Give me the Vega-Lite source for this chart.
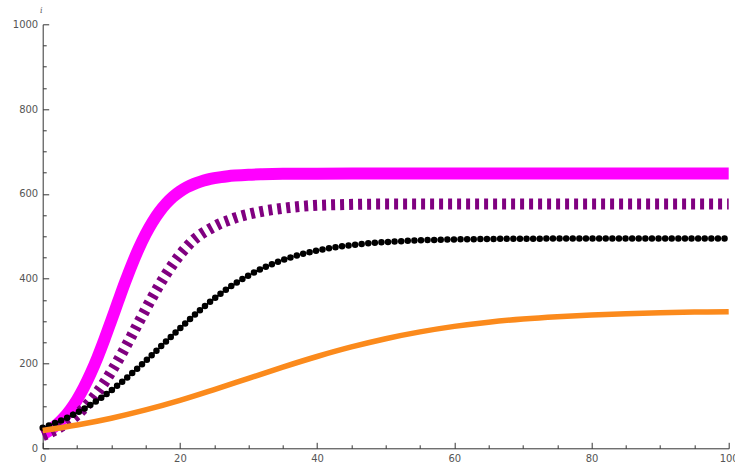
{
  "$schema": "https://vega.github.io/schema/vega-lite/v6.json",
  "width": 686,
  "height": 424,
  "autosize": "none",
  "padding": {"left": 42.7, "top": 24.3, "right": 6.3, "bottom": 19.5},
  "background": "white",
  "config": {
    "view": {"stroke": null},
    "axis": {"grid": false, "labelFont": "DejaVu Sans", "labelFontSize": 10, "labelColor": "#555555", "domainColor": "#333333", "tickColor": "#333333", "domainWidth": 1, "tickWidth": 1}
  },
  "data": {"values": [
    {"s":"m","t":0,"v":32.5},{"s":"m","t":1,"v":42.4},{"s":"m","t":2,"v":54.9},{"s":"m","t":3,"v":70.7},{"s":"m","t":4,"v":90.4},{"s":"m","t":5,"v":114.4},{"s":"m","t":6,"v":143.2},{"s":"m","t":7,"v":176.9},{"s":"m","t":8,"v":215.0},{"s":"m","t":9,"v":256.9},{"s":"m","t":10,"v":301.4},{"s":"m","t":11,"v":346.6},{"s":"m","t":12,"v":391.1},{"s":"m","t":13,"v":433.0},{"s":"m","t":14,"v":471.2},{"s":"m","t":15,"v":504.8},{"s":"m","t":16,"v":533.6},{"s":"m","t":17,"v":557.7},{"s":"m","t":18,"v":577.3},{"s":"m","t":19,"v":593.1},{"s":"m","t":20,"v":605.7},{"s":"m","t":21,"v":615.5},{"s":"m","t":22,"v":623.1},{"s":"m","t":23,"v":629.0},{"s":"m","t":24,"v":633.6},{"s":"m","t":25,"v":637.0},{"s":"m","t":26,"v":639.7},{"s":"m","t":27,"v":641.7},{"s":"m","t":28,"v":643.2},{"s":"m","t":30,"v":645.3},{"s":"m","t":32,"v":646.4},{"s":"m","t":35,"v":647.3},{"s":"m","t":40,"v":647.8},{"s":"m","t":50,"v":648},{"s":"m","t":60,"v":648},{"s":"m","t":70,"v":648},{"s":"m","t":80,"v":648},{"s":"m","t":90,"v":648},{"s":"m","t":100,"v":648},
    {"s":"p","t":0,"v":29.9},{"s":"p","t":1,"v":36.5},{"s":"p","t":2,"v":44.5},{"s":"p","t":3,"v":54.0},{"s":"p","t":4,"v":65.3},{"s":"p","t":5,"v":78.7},{"s":"p","t":6,"v":94.2},{"s":"p","t":7,"v":112.1},{"s":"p","t":8,"v":132.5},{"s":"p","t":9,"v":155.4},{"s":"p","t":10,"v":180.6},{"s":"p","t":11,"v":207.8},{"s":"p","t":12,"v":236.7},{"s":"p","t":13,"v":266.7},{"s":"p","t":14,"v":297.2},{"s":"p","t":15,"v":327.5},{"s":"p","t":16,"v":356.9},{"s":"p","t":17,"v":384.9},{"s":"p","t":18,"v":410.9},{"s":"p","t":19,"v":434.7},{"s":"p","t":20,"v":456.1},{"s":"p","t":21,"v":475.0},{"s":"p","t":22,"v":491.5},{"s":"p","t":23,"v":504},{"s":"p","t":24,"v":514},{"s":"p","t":25,"v":523},{"s":"p","t":26,"v":531},{"s":"p","t":27,"v":537},{"s":"p","t":28,"v":543},{"s":"p","t":29,"v":548},{"s":"p","t":30,"v":552},{"s":"p","t":32,"v":559},{"s":"p","t":34,"v":564},{"s":"p","t":36,"v":568},{"s":"p","t":38,"v":571},{"s":"p","t":40,"v":573},{"s":"p","t":43,"v":574.5},{"s":"p","t":46,"v":575.5},{"s":"p","t":50,"v":576},{"s":"p","t":60,"v":576},{"s":"p","t":70,"v":576},{"s":"p","t":80,"v":576},{"s":"p","t":90,"v":576},{"s":"p","t":100,"v":576},
    {"s":"k","t":0,"v":48.6},{"s":"k","t":1,"v":54.4},{"s":"k","t":2,"v":60.7},{"s":"k","t":3,"v":67.7},{"s":"k","t":4,"v":75.4},{"s":"k","t":5,"v":83.8},{"s":"k","t":6,"v":92.8},{"s":"k","t":7,"v":102.6},{"s":"k","t":8,"v":113.2},{"s":"k","t":9,"v":124.6},{"s":"k","t":10,"v":136.6},{"s":"k","t":11,"v":149.3},{"s":"k","t":12,"v":162.7},{"s":"k","t":13,"v":176.7},{"s":"k","t":14,"v":191.1},{"s":"k","t":15,"v":206.0},{"s":"k","t":16,"v":221.2},{"s":"k","t":17,"v":236.7},{"s":"k","t":18,"v":252.2},{"s":"k","t":19,"v":267.6},{"s":"k","t":20,"v":282.9},{"s":"k","t":21,"v":298.0},{"s":"k","t":22,"v":312.6},{"s":"k","t":23,"v":326.8},{"s":"k","t":24,"v":340.4},{"s":"k","t":25,"v":353.4},{"s":"k","t":26,"v":365.7},{"s":"k","t":27,"v":377.3},{"s":"k","t":28,"v":388.2},{"s":"k","t":29,"v":398.3},{"s":"k","t":30,"v":407.7},{"s":"k","t":32,"v":424.3},{"s":"k","t":34,"v":438.2},{"s":"k","t":36,"v":449.6},{"s":"k","t":38,"v":458.9},{"s":"k","t":40,"v":466.5},{"s":"k","t":42,"v":472.5},{"s":"k","t":44,"v":477.3},{"s":"k","t":46,"v":481.1},{"s":"k","t":48,"v":484.2},{"s":"k","t":50,"v":486.5},{"s":"k","t":55,"v":490.4},{"s":"k","t":60,"v":492.5},{"s":"k","t":65,"v":493.7},{"s":"k","t":70,"v":494.3},{"s":"k","t":80,"v":494.8},{"s":"k","t":90,"v":495},{"s":"k","t":100,"v":495},
    {"s":"o","t":0,"v":42.0},{"s":"o","t":5,"v":55.0},{"s":"o","t":10,"v":71.0},{"s":"o","t":15,"v":90.5},{"s":"o","t":20,"v":113.0},{"s":"o","t":25,"v":138.5},{"s":"o","t":30,"v":165.0},{"s":"o","t":35,"v":191.5},{"s":"o","t":40,"v":216.5},{"s":"o","t":45,"v":239.0},{"s":"o","t":50,"v":258.5},{"s":"o","t":55,"v":274.5},{"s":"o","t":60,"v":287.5},{"s":"o","t":65,"v":297.5},{"s":"o","t":70,"v":305.0},{"s":"o","t":75,"v":310.5},{"s":"o","t":80,"v":314.5},{"s":"o","t":85,"v":317.5},{"s":"o","t":90,"v":319.8},{"s":"o","t":95,"v":321.2},{"s":"o","t":100,"v":322.3}
  ]},
  "layer": [
    {
      "transform": [{"filter": "datum.s == 'm'"}],
      "mark": {"type": "line", "color": "#ff00ff", "strokeWidth": 12, "interpolate": "monotone", "strokeCap": "butt", "clip": false},
      "encoding": {
        "x": {"field": "t", "type": "quantitative", "scale": {"domain": [0, 100], "nice": false, "zero": false},
              "axis": {"orient": "bottom", "values": [0, 20, 40, 60, 80, 100], "format": "d", "tickSize": -6, "labelPadding": 11.5, "title": null, "labelFlush": false, "labelOverlap": false}},
        "y": {"field": "v", "type": "quantitative", "scale": {"domain": [0, 1000], "nice": false},
              "axis": {"orient": "left", "values": [0, 200, 400, 600, 800, 1000], "format": "d", "tickSize": -6, "labelPadding": 11, "labelFlush": false, "labelOverlap": false, "title": "i", "titleAngle": 0, "titleX": -2, "titleY": -14, "titleAlign": "center", "titleBaseline": "middle", "titleFontSize": 8, "titleFontStyle": "italic", "titleFontWeight": "normal", "titleColor": "#555555", "titleFont": "DejaVu Serif"}}
      }
    },
    {
      "transform": [{"filter": "datum.s == 'p'"}],
      "mark": {"type": "line", "color": "#800080", "strokeWidth": 11, "interpolate": "monotone", "strokeCap": "butt", "strokeDash": [4, 5]},
      "encoding": {
        "x": {"field": "t", "type": "quantitative",
              "axis": {"orient": "bottom", "values": [5, 10, 15, 25, 30, 35, 45, 50, 55, 65, 70, 75, 85, 90, 95], "tickSize": -3.5, "labels": false, "domain": false, "title": null}},
        "y": {"field": "v", "type": "quantitative",
              "axis": {"orient": "left", "values": [50, 100, 150, 250, 300, 350, 450, 500, 550, 650, 700, 750, 850, 900, 950], "tickSize": -3.5, "labels": false, "domain": false, "title": null}}
      }
    },
    {
      "transform": [{"filter": "datum.s == 'k'"}],
      "mark": {"type": "line", "color": "#000000", "strokeWidth": 6.5, "interpolate": "monotone", "strokeCap": "round", "strokeDash": [0, 6.6]},
      "encoding": {
        "x": {"field": "t", "type": "quantitative", "axis": null},
        "y": {"field": "v", "type": "quantitative", "axis": null}
      }
    },
    {
      "transform": [{"filter": "datum.s == 'o'"}],
      "mark": {"type": "line", "color": "#fb8a1c", "strokeWidth": 5.5, "interpolate": "monotone"},
      "encoding": {
        "x": {"field": "t", "type": "quantitative", "axis": null},
        "y": {"field": "v", "type": "quantitative", "axis": null}
      }
    }
  ],
  "resolve": {"axis": {"x": "independent", "y": "independent"}}
}
